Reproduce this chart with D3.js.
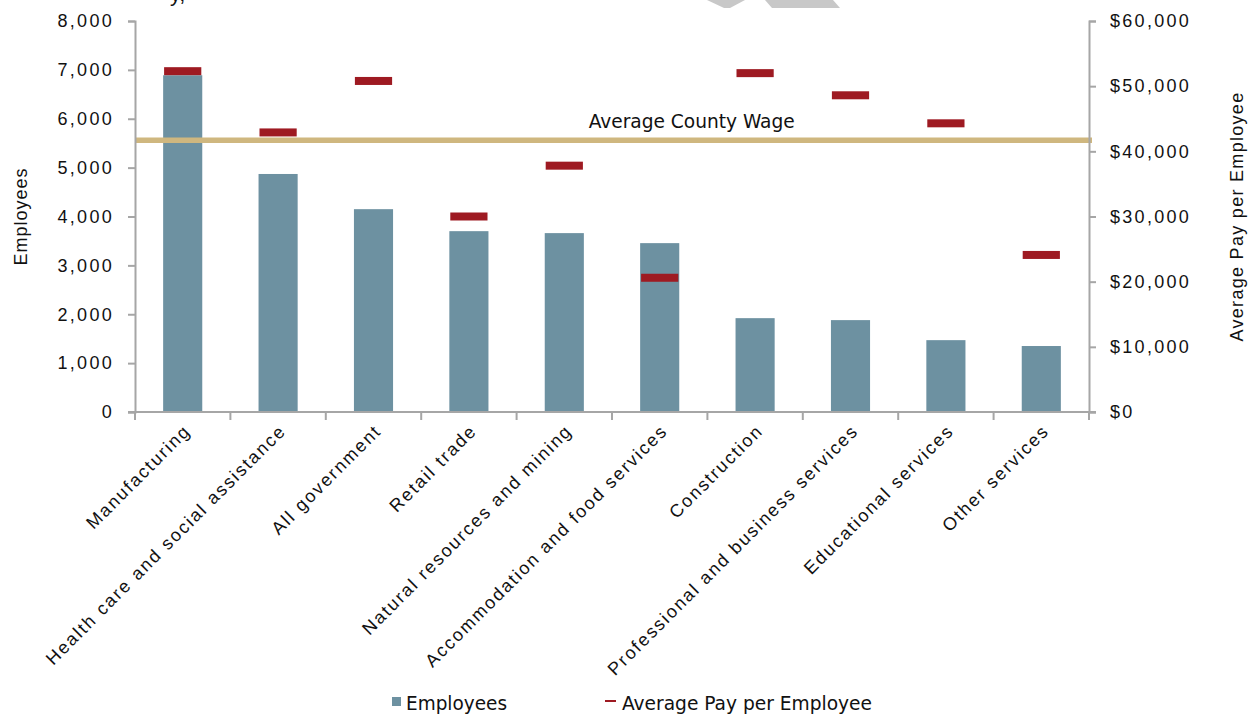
<!DOCTYPE html>
<html>
<head>
<meta charset="utf-8">
<script src="https://cdn.jsdelivr.net/npm/d3@7/dist/d3.min.js"></script>
<style>
  html, body { margin: 0; padding: 0; background: #fff; }
  svg { display: block; }
  .tick text { font-family: "Liberation Sans", Arial, sans-serif; }
</style>
</head>
<body>
<svg id="chart" width="1251" height="714"></svg>
<script>
const categories = ["Manufacturing", "Health care and social assistance", "All government", "Retail trade",
  "Natural resources and mining", "Accommodation and food services", "Construction",
  "Professional and business services", "Educational services", "Other services"];
const employees = [6890, 4870, 4150, 3700, 3660, 3455, 1920, 1880, 1470, 1350];
const avgPay = [52300, 42900, 50800, 30000, 37800, 20600, 52000, 48600, 44300, 24100];
const countyWage = 41700;
const leftTicks = [0, 1000, 2000, 3000, 4000, 5000, 6000, 7000, 8000];
const rightTicks = [0, 10000, 20000, 30000, 40000, 50000, 60000];

const svg = d3.select("#chart");
const m = { left: 135, right: 1089, top: 21, bottom: 412 };
const axisColor = "#a6a6a6";
const font = '"Liberation Sans", Arial, sans-serif';
const narrow = '"Liberation Sans Narrow", "DejaVu Sans Condensed", "Roboto", sans-serif';

const x = d3.scaleBand().domain(categories).range([m.left, m.right]).padding(0);
const yL = d3.scaleLinear().domain([0, 8000]).range([m.bottom, m.top]);
const yR = d3.scaleLinear().domain([0, 60000]).range([m.bottom, m.top]);

// decorative fragments at top (cut-off title and watermark)
svg.append("text").attr("x", 170).attr("y", 1).attr("font-family", font).attr("font-size", 22)
  .attr("fill", "#111").text("y,");
svg.append("polygon").attr("points", "707,0 745,0 730,8 724,8").attr("fill", "#c8c8c8");
svg.append("polygon").attr("points", "765,0 833,0 840,8 772,8").attr("fill", "#c8c8c8");

// bars
const bw = x.bandwidth();
svg.append("g").selectAll("rect").data(categories).join("rect")
  .attr("x", d => x(d) + bw * (1 - 0.41) / 2)
  .attr("width", bw * 0.41)
  .attr("y", (d, i) => yL(employees[i]))
  .attr("height", (d, i) => yL(0) - yL(employees[i]))
  .attr("fill", "#6d91a1");

// county wage line
svg.append("line")
  .attr("x1", m.left).attr("x2", m.right + 3)
  .attr("y1", yR(countyWage)).attr("y2", yR(countyWage))
  .attr("stroke", "#cfb77f").attr("stroke-width", 5.5);

svg.append("text")
  .attr("x", (x("Natural resources and mining") + x("Construction") + bw) / 2 + 32)
  .attr("y", yR(countyWage) - 12)
  .attr("text-anchor", "middle")
  .attr("font-family", narrow).attr("font-size", 19).attr("fill", "#111")
  .attr("textLength", 206).attr("lengthAdjust", "spacingAndGlyphs")
  .text("Average County Wage");

// pay markers
svg.append("g").selectAll("rect").data(categories).join("rect")
  .attr("x", d => x(d) + bw * (1 - 0.39) / 2)
  .attr("width", bw * 0.39)
  .attr("y", (d, i) => yR(avgPay[i]) - 4)
  .attr("height", 8)
  .attr("fill", "#9e1a22");

// axes
function styleAxis(g) {
  g.selectAll(".domain").attr("stroke", axisColor).attr("stroke-width", 2);
  g.selectAll(".tick line").attr("stroke", axisColor).attr("stroke-width", 2);
  g.selectAll(".tick text").attr("fill", "#111").attr("font-size", 18).style("letter-spacing", "2.3px");
}

const gL = svg.append("g").attr("transform", `translate(${m.left},0)`)
  .call(d3.axisLeft(yL).tickValues(leftTicks).tickFormat(d3.format(",")).tickSize(7).tickSizeOuter(7).tickPadding(14));
styleAxis(gL);

const gR = svg.append("g").attr("transform", `translate(${m.right},0)`)
  .call(d3.axisRight(yR).tickValues(rightTicks).tickFormat(d => "$" + d3.format(",")(d)).tickSize(7).tickSizeOuter(7).tickPadding(14));
styleAxis(gR);

// bottom axis with ticks at band boundaries
const gB = svg.append("g").attr("transform", `translate(0,${m.bottom})`);
gB.append("line").attr("x1", m.left - 7).attr("x2", m.right + 7)
  .attr("stroke", axisColor).attr("stroke-width", 2);
const bounds = categories.map(d => x(d)).concat([m.right]);
gB.selectAll("line.tk").data(bounds).join("line").attr("class", "tk")
  .attr("x1", d => d).attr("x2", d => d).attr("y1", 0).attr("y2", 8)
  .attr("stroke", axisColor).attr("stroke-width", 2);
gB.selectAll("text.lbl").data(categories).join("text").attr("class", "lbl")
  .attr("transform", d => `translate(${x(d) + bw / 2 + 9},${20}) rotate(-45)`)
  .attr("text-anchor", "end")
  .attr("font-family", font).attr("font-size", 18).attr("fill", "#111")
  .style("letter-spacing", "1.9px")
  .text(d => d);

// axis titles
svg.append("text")
  .attr("transform", `translate(27,${(m.top + m.bottom) / 2}) rotate(-90)`)
  .attr("text-anchor", "middle").attr("font-family", font).attr("font-size", 18).attr("fill", "#111")
  .style("letter-spacing", "1px")
  .text("Employees");
svg.append("text")
  .attr("transform", `translate(1243,${(m.top + m.bottom) / 2}) rotate(-90)`)
  .attr("text-anchor", "middle").attr("font-family", font).attr("font-size", 18).attr("fill", "#111")
  .style("letter-spacing", "1.3px")
  .text("Average Pay per Employee");

// legend
const lg = svg.append("g");
lg.append("rect").attr("x", 392).attr("y", 697).attr("width", 9).attr("height", 9).attr("fill", "#6d91a1");
lg.append("text").attr("x", 406).attr("y", 710).attr("font-family", narrow).attr("font-size", 20).attr("fill", "#111")
  .attr("textLength", 101).attr("lengthAdjust", "spacingAndGlyphs").text("Employees");
lg.append("line").attr("x1", 605).attr("x2", 616).attr("y1", 701).attr("y2", 701)
  .attr("stroke", "#9e1a22").attr("stroke-width", 2);
lg.append("text").attr("x", 622).attr("y", 710).attr("font-family", narrow).attr("font-size", 20).attr("fill", "#111")
  .attr("textLength", 250).attr("lengthAdjust", "spacingAndGlyphs").text("Average Pay per Employee");
</script>
</body>
</html>
